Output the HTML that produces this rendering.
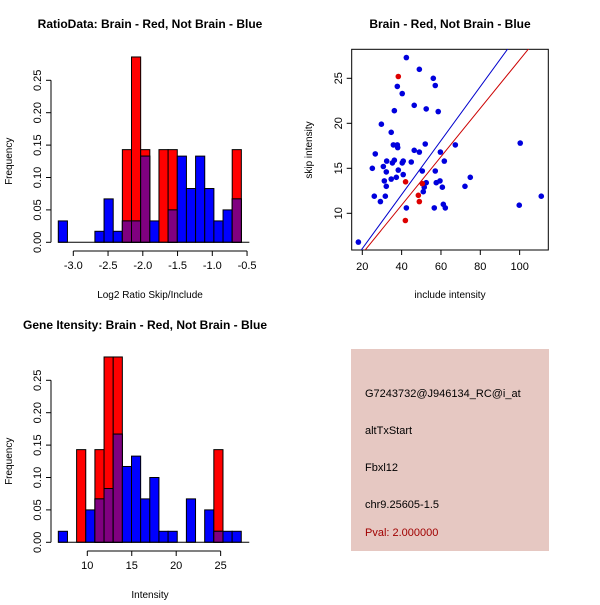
<!DOCTYPE html>
<html><head><meta charset="utf-8"><style>
body{margin:0;background:#fff}
svg text{font-family:"Liberation Sans",sans-serif}
</style></head><body>
<svg id="s" width="600" height="600" xmlns="http://www.w3.org/2000/svg">
<rect width="600" height="600" fill="#fff"/>
<text x="150" y="28" text-anchor="middle" font-size="12" font-weight="bold">RatioData: Brain - Red, Not Brain - Blue</text>
<text x="450" y="28" text-anchor="middle" font-size="12" font-weight="bold">Brain - Red, Not Brain - Blue</text>
<text x="145" y="329" text-anchor="middle" font-size="12" font-weight="bold">Gene Itensity: Brain - Red, Not Brain - Blue</text>
<g>
<rect x="351" y="349" width="198" height="202" fill="#e6c8c2"/>
<text x="365" y="397" font-size="11">G7243732@J946134_RC@i_at</text>
<text x="365" y="434" font-size="11">altTxStart</text>
<text x="365" y="471" font-size="11">Fbxl12</text>
<text x="365" y="508" font-size="11">chr9.25605-1.5</text>
<text x="365" y="536" font-size="11" fill="#a00000">Pval: 2.000000</text>
</g>
</svg>
<script>
// Ratio histogram
const ratioStart=-3.216, ratioBinW=0.1317;
const ratioBlue=[0.033,0,0,0,0.017,0.067,0.017,0.033,0.033,0.133,0.033,0,0.05,0.133,0.083,0.133,0.083,0.033,0.05,0.067];
const ratioRed=[0,0,0,0,0,0,0,0.143,0.286,0.143,0,0.143,0.143,0,0,0,0,0,0,0.143];
const ratioXTicks=[-3.0,-2.5,-2.0,-1.5,-1.0,-0.5];
const freqTicks=[0,0.05,0.10,0.15,0.20,0.25];
// Intensity histogram
const intStart=6.74, intBinW=1.029;
const intBlue=[0.017,0,0,0.05,0.067,0.083,0.167,0.117,0.133,0.067,0.1,0.017,0.017,0,0.067,0,0.05,0.017,0.017,0.017];
const intRed=[0,0,0.143,0,0.143,0.286,0.286,0,0,0,0,0,0,0,0,0,0,0.143,0,0];
const intXTicks=[10,15,20,25];
// Scatter
const blueX=[18,42.4,49,56.1,57.1,37.8,40.3,46.4,52.5,58.6,36.3,29.7,34.7,35.8,37.8,38,52,67.3,100.3,26.6,46.4,49,59.7,32.4,35.3,36.3,40.8,40.3,44.9,61.7,25.1,30.7,32.2,38.3,40.8,50.5,57.1,74.9,31.2,34.7,37.3,32.2,52.5,57.6,59.5,60.7,72.2,51,51.5,26.1,29.2,31.7,42.4,56.6,61.2,62.2,99.8,111];
const blueY=[6.8,27.3,26,25,24.2,24.1,23.3,22,21.6,21.3,21.4,19.9,19,17.6,17.6,17.3,17.7,17.6,17.8,16.6,17,16.8,16.8,15.8,15.6,15.9,15.8,15.6,15.7,15.8,15,15.2,14.6,14.8,14.3,14.7,14.7,14,13.6,13.8,14,13,13.4,13.4,13.6,12.9,13,12.4,12.9,11.9,11.3,11.9,10.6,10.6,11,10.6,10.9,11.9];
const redX=[38.3,42,48.5,49,41.9,50.5];
const redY=[25.2,13.5,12,11.3,9.2,13.3];
const scXTicks=[20,40,60,80,100];
const scYTicks=[10,15,20,25];
const blueLine=[0.3,0.08], redLine=[0.269,0.15];

const svg=document.getElementById('s');
const NS='http://www.w3.org/2000/svg';
function mk(t,a,p){const e=document.createElementNS(NS,t);for(const k in a)e.setAttribute(k,a[k]);(p||svg).appendChild(e);return e;}

function hist(g,start,bw,blue,red,xs,ys,xTicks,xlab,xTickY,xLabY,fmt){
  const grp=mk('g',{});
  
  
  const n=blue.length;
  for(let i=0;i<n;i++){
    const x0=xs(start+i*bw),x1=xs(start+(i+1)*bw);
    const r=red[i],b=blue[i];
    if(r>0){const e=mk('rect',{x:x0,y:ys(r),width:x1-x0,height:ys(0)-ys(r),fill:'#ff0000',stroke:'#000','stroke-width':1},grp);
      }
    if(b>0){const e=mk('rect',{x:x0,y:ys(b),width:x1-x0,height:ys(0)-ys(b),fill:'#0000ff',stroke:'#000','stroke-width':1},grp);
      }
    if(r>0&&b>0){const m=Math.min(r,b);const e=mk('rect',{x:x0,y:ys(m),width:x1-x0,height:ys(0)-ys(m),fill:'#800080',stroke:'#000','stroke-width':1},grp);
      }
  }
  // baseline
  mk('line',{x1:xs(start),x2:xs(start+n*bw)+8,y1:ys(0),y2:ys(0),stroke:'#000'},grp);
  // y axis
  const ya=mk('g',{},grp);
  
  const ax=51;
  mk('line',{x1:ax,x2:ax,y1:ys(0),y2:ys(0.25),stroke:'#000'},ya);
  freqTicks.forEach(v=>{mk('line',{x1:ax-5,x2:ax,y1:ys(v),y2:ys(v),stroke:'#000'},ya);
    const t=mk('text',{x:ax-10,y:ys(v),'font-size':11,'text-anchor':'middle',transform:`rotate(-90 ${ax-10} ${ys(v)})`},ya);t.textContent=v.toFixed(2);});
  const yl=mk('text',{x:12,y:ys(0.125),'font-size':10,'text-anchor':'middle',transform:`rotate(-90 12 ${ys(0.125)})`},ya);yl.textContent='Frequency';
  // x axis
  const xa=mk('g',{},grp);
  
  mk('line',{x1:xs(xTicks[0]),x2:xs(xTicks[xTicks.length-1]),y1:xTickY,y2:xTickY,stroke:'#000'},xa);
  xTicks.forEach(v=>{mk('line',{x1:xs(v),x2:xs(v),y1:xTickY,y2:xTickY+5,stroke:'#000'},xa);
    const t=mk('text',{x:xs(v),y:xTickY+18,'font-size':11,'text-anchor':'middle'},xa);t.textContent=fmt(v);});
  const xl=mk('text',{x:150,y:xLabY,'font-size':10,'text-anchor':'middle'},xa);xl.textContent=xlab;
}
const ysTop=v=>242.3-v*648, ysBot=v=>542.3-v*648;
hist('ratio-histogram',ratioStart,ratioBinW,ratioBlue,ratioRed,v=>73.3+(v+3)*69.5,ysTop,ratioXTicks,'Log2 Ratio Skip/Include',251,298,v=>v.toFixed(1));
hist('intensity-histogram',intStart,intBinW,intBlue,intRed,v=>87.3+(v-10)*8.89,ysBot,intXTicks,'Intensity',551,598,v=>String(v));

// scatter
const sx=v=>362.3+(v-20)*1.9667, sy=v=>213.3-(v-10)*9.0;
const sg=mk('g',{});

const clip=mk('clipPath',{id:'cp'});mk('rect',{x:352,y:49,width:196,height:201},clip);
mk('rect',{x:351.7,y:49.3,width:196.6,height:200.7,fill:'none',stroke:'#000'},sg);
[[blueLine,'#0000cc','blue-line'],[redLine,'#cc0000','red-line']].forEach(([l,c,n])=>{
  const e=mk('line',{x1:sx(15),y1:sy(l[0]*15+l[1]),x2:sx(120),y2:sy(l[0]*120+l[1]),stroke:c,'clip-path':'url(#cp)'},sg);
  });
blueX.forEach((x,i)=>{const e=mk('circle',{cx:sx(x),cy:sy(blueY[i]),r:2.8,fill:'#0000dd'},sg);
  });
redX.forEach((x,i)=>{const e=mk('circle',{cx:sx(x),cy:sy(redY[i]),r:2.8,fill:'#dd0000'},sg);
  });
scXTicks.forEach(v=>{mk('line',{x1:sx(v),x2:sx(v),y1:250,y2:255,stroke:'#000'},sg);
  const t=mk('text',{x:sx(v),y:270,'font-size':11,'text-anchor':'middle'},sg);t.textContent=v;});
scYTicks.forEach(v=>{mk('line',{x1:346.7,x2:351.7,y1:sy(v),y2:sy(v),stroke:'#000'},sg);
  const t=mk('text',{x:342,y:sy(v),'font-size':11,'text-anchor':'middle',transform:`rotate(-90 342 ${sy(v)})`},sg);t.textContent=v;});
const sxl=mk('text',{x:450,y:298,'font-size':10,'text-anchor':'middle'},sg);sxl.textContent='include intensity';
const syl=mk('text',{x:312,y:150,'font-size':10,'text-anchor':'middle',transform:'rotate(-90 312 150)'},sg);syl.textContent='skip intensity';
</script>
</body></html>
